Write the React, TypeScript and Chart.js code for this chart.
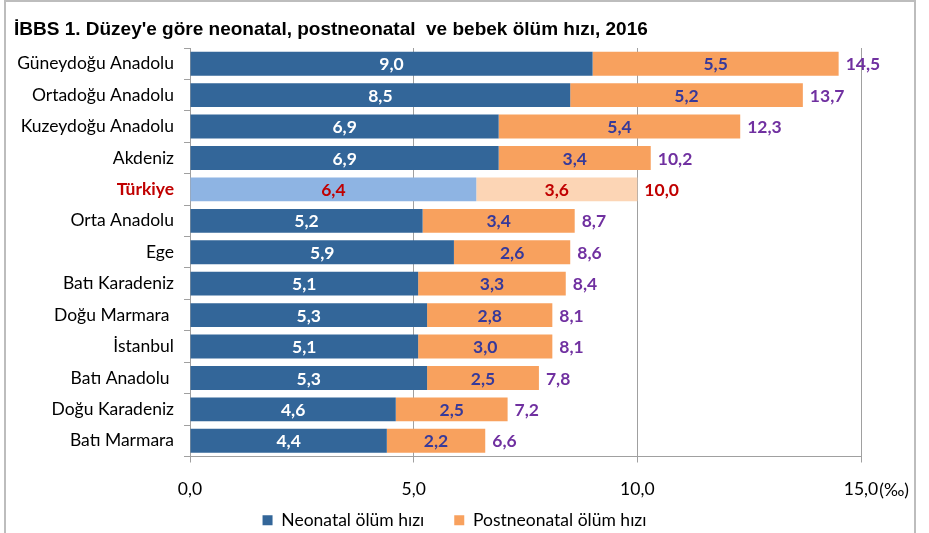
import React, { useEffect, useRef } from 'react';
import { Chart, registerables } from 'chart.js';
Chart.register(...registerables);

const titleText = "İBBS 1. Düzey'e göre neonatal, postneonatal  ve bebek ölüm hızı, 2016";
const categories = ['Güneydoğu Anadolu', 'Ortadoğu Anadolu', 'Kuzeydoğu Anadolu', 'Akdeniz', 'Türkiye', 'Orta Anadolu', 'Ege', 'Batı Karadeniz', 'Doğu Marmara ', 'İstanbul', 'Batı Anadolu ', 'Doğu Karadeniz', 'Batı Marmara'];
const neonatal = [9.0, 8.5, 6.9, 6.9, 6.4, 5.2, 5.9, 5.1, 5.3, 5.1, 5.3, 4.6, 4.4];
const postneonatal = [5.5, 5.2, 5.4, 3.4, 3.6, 3.4, 2.6, 3.3, 2.8, 3.0, 2.5, 2.5, 2.2];
const totals = [14.5, 13.7, 12.3, 10.2, 10.0, 8.7, 8.6, 8.4, 8.1, 8.1, 7.8, 7.2, 6.6];
const seriesNames = ['Neonatal ölüm hızı', 'Postneonatal ölüm hızı'];
const xMin = 0;
const xMax = 15;
const xStep = 5;
const unitSuffix = '(‰)';
const highlightIndex = 4;

const FONT = 'Lato, "Open Sans", sans-serif';
const C_NEO = '#336699';
const C_NEO_HL = '#8EB4E3';
const C_POST = '#F8A15E';
const C_POST_HL = '#FCD5B5';
const C_RED = '#C00000';
const C_POSTLBL = '#36399A';
const C_TOTAL = '#7030A0';
const C_GRID = '#A0A0A0';

const fmt = (v: number) => v.toFixed(1).replace('.', ',');

const labelPlugin = {
  id: 'customLabels',
  afterLayout(chart: any) {
    const xs = chart.scales.x;
    xs.bottom = xs.top + 50;
    const lg = chart.legend;
    if (lg) {
      lg.left += 24;
      lg.right += 24;
    }
  },
  afterDatasetsDraw(chart: any) {
    const ctx = chart.ctx;
    ctx.save();
    ctx.font = `bold 17.5px ${FONT}`;
    ctx.textBaseline = 'middle';
    const datasets = chart.data.datasets;
    datasets.forEach((ds: any, di: number) => {
      const meta = chart.getDatasetMeta(di);
      meta.data.forEach((bar: any, i: number) => {
        const p = bar.getProps(['x', 'y', 'base'], true);
        const cx = (p.x + p.base) / 2;
        ctx.textAlign = 'center';
        if (i === highlightIndex) ctx.fillStyle = C_RED;
        else ctx.fillStyle = di === 0 ? '#FFFFFF' : C_POSTLBL;
        ctx.fillText(fmt(ds.data[i]), cx, p.y + 1);
      });
    });
    const lastMeta = chart.getDatasetMeta(datasets.length - 1);
    lastMeta.data.forEach((bar: any, i: number) => {
      const p = bar.getProps(['x', 'y'], true);
      ctx.textAlign = 'left';
      ctx.fillStyle = i === highlightIndex ? C_RED : C_TOTAL;
      ctx.fillText(fmt(totals[i]), p.x + 7, p.y + 1);
    });
    ctx.restore();
  },
  afterDraw(chart: any) {
    const ctx = chart.ctx;
    ctx.save();
    ctx.font = `bold 19px "Liberation Sans Narrow", "Liberation Sans", Arial, sans-serif`;
    ctx.fillStyle = '#000';
    ctx.textAlign = 'left';
    ctx.textBaseline = 'middle';
    ctx.fillText(titleText, 14, 30);
    const xs = chart.scales.x;
    const xr = xs.getPixelForValue(xMax);
    ctx.font = `17.5px ${FONT}`;
    const w = ctx.measureText(fmt(xMax)).width;
    ctx.fillText(unitSuffix, xr + w / 2 + 1, 490);
    ctx.restore();
  },
};

export default function App() {
  const ref = useRef<HTMLCanvasElement | null>(null);
  useEffect(() => {
    if (!ref.current) return;
    const chart = new Chart(ref.current, {
      type: 'bar',
      data: {
        labels: categories,
        datasets: [
          {
            label: seriesNames[0],
            data: neonatal,
            backgroundColor: (c: any) => (c.dataIndex === highlightIndex ? C_NEO_HL : C_NEO),
            borderWidth: 0,
            barPercentage: 0.76,
            categoryPercentage: 1,
          },
          {
            label: seriesNames[1],
            data: postneonatal,
            backgroundColor: (c: any) => (c.dataIndex === highlightIndex ? C_POST_HL : C_POST),
            borderWidth: 0,
            barPercentage: 0.76,
            categoryPercentage: 1,
          },
        ],
      },
      options: {
        indexAxis: 'y',
        animation: false,
        responsive: true,
        maintainAspectRatio: false,
        layout: { padding: { top: 48, right: 68, left: 0, bottom: -6 } },
        scales: {
          x: {
            stacked: true,
            min: xMin,
            max: xMax,
            grid: { color: C_GRID, drawTicks: true, tickLength: 6, tickColor: C_GRID },
            border: { color: C_GRID },
            ticks: {
              stepSize: xStep,
              color: '#000',
              font: { family: FONT, size: 17.5 },
              padding: 16,
              callback: (v: any) => fmt(Number(v)),
            },
            afterFit: (s: any) => {
              s.height = 25;
            },
          },
          y: {
            stacked: true,
            grid: { drawOnChartArea: false, drawTicks: true, tickLength: 6, color: C_GRID, offset: true },
            border: { color: C_GRID },
            ticks: {
              padding: 10,
              color: (c: any) => (c.index === highlightIndex ? C_RED : '#000'),
              font: (c: any) => ({ family: FONT, size: 17.5, weight: c.index === highlightIndex ? 'bold' : 'normal' }),
            },
            afterFit: (s: any) => {
              s.width = 190;
            },
          },
        },
        plugins: {
          title: { display: false },
          tooltip: { enabled: false },
          legend: {
            position: 'bottom',
            labels: {
              boxWidth: 10,
              boxHeight: 10,
              color: '#000',
              padding: 30,
              font: { family: FONT, size: 17.5 },
            },
          },
        },
      },
      plugins: [labelPlugin],
    } as any);
    return () => chart.destroy();
  }, []);
  return (
    <div style={{ position: 'absolute', left: 0, top: 0, width: 929, height: 533, background: '#fff' }}>
      <canvas ref={ref} />
      <div
        style={{
          position: 'absolute',
          left: 4,
          top: 0,
          width: 908,
          height: 560,
          borderLeft: '2px solid #BDBDBD',
          borderRight: '2px solid #BDBDBD',
          borderTop: '2px solid #BDBDBD',
          pointerEvents: 'none',
        }}
      />
    </div>
  );
}
